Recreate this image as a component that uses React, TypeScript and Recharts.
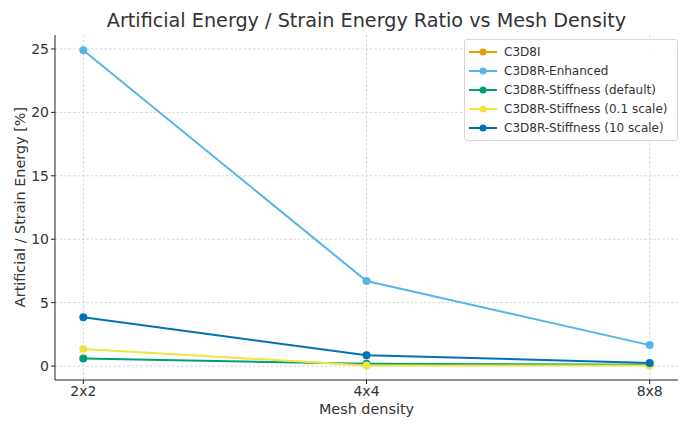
import { CartesianGrid, Line, LineChart, XAxis, YAxis } from "recharts";

const meshes = ["2x2", "4x4", "8x8"];
const seriesNames = [
  "C3D8I",
  "C3D8R-Enhanced",
  "C3D8R-Stiffness (default)",
  "C3D8R-Stiffness (0.1 scale)",
  "C3D8R-Stiffness (10 scale)",
];
const seriesColors = ["#E69F00", "#56B4E9", "#009E73", "#F0E442", "#0072B2"];

const c3d8i: (number | null)[] = [null, null, null];
const enhanced = [24.9, 6.7, 1.65];
const stiffDefault = [0.6, 0.18, 0.1];
const stiffLow = [1.35, 0.05, 0.05];
const stiffHigh = [3.85, 0.85, 0.25];
const yTicks = [0, 5, 10, 15, 20, 25];
const xTicks = [0, 1, 2];

const allValues = [c3d8i, enhanced, stiffDefault, stiffLow, stiffHigh];
const data = meshes.map((m, i) => {
  const row: Record<string, number | string | null> = { i, mesh: m };
  seriesNames.forEach((n, k) => (row[n] = allValues[k][i]));
  return row;
});

const font = "'DejaVu Sans', sans-serif";
const textColor = "#333333";

export default function App() {
  return (
    <div style={{ position: "absolute", left: 0, top: 0, width: 690, height: 431, background: "#fff", fontFamily: font }}>
      <LineChart width={690} height={431} data={data} margin={{ top: 35, right: 12, bottom: 21, left: 15 }}>
        <CartesianGrid stroke="#d6d6d6" strokeDasharray="2.5 2" syncWithTicks />
        <XAxis
          dataKey="i"
          type="number"
          domain={[-0.1, 2.1]}
          ticks={xTicks}
          tickFormatter={(v: number) => meshes[v]}
          height={30}
          tickSize={4}
          stroke="#222"
          tick={{ fill: textColor, fontSize: 14, fontFamily: font }}
        />
        <YAxis
          type="number"
          domain={[-1.1, 26.1]}
          ticks={yTicks}
          width={40}
          tickSize={4}
          stroke="#222"
          tick={{ fill: textColor, fontSize: 14, fontFamily: font }}
        />
        {seriesNames.map((n, k) => (
          <Line
            key={n}
            dataKey={n}
            stroke={seriesColors[k]}
            strokeWidth={2}
            dot={{ r: 4, fill: seriesColors[k], stroke: seriesColors[k], strokeWidth: 0 }}
            isAnimationActive={false}
          />
        ))}
      </LineChart>
      <div style={{ position: "absolute", left: 55, width: 623, top: 9, textAlign: "center", fontSize: 19.2, color: textColor }}>
        Artificial Energy / Strain Energy Ratio vs Mesh Density
      </div>
      <div style={{ position: "absolute", left: 55, width: 623, top: 401, textAlign: "center", fontSize: 14.4, color: textColor }}>
        Mesh density
      </div>
      <div
        style={{
          position: "absolute",
          left: 20,
          top: 207,
          transform: "translate(-50%, -50%) rotate(-90deg)",
          whiteSpace: "nowrap",
          fontSize: 14.4,
          color: textColor,
        }}
      >
        Artificial / Strain Energy [%]
      </div>
      <div
        style={{
          position: "absolute",
          left: 464,
          top: 39,
          width: 212,
          padding: "3px 0",
          border: "1px solid #d8d8d8",
          borderRadius: 3,
          background: "rgba(255,255,255,0.85)",
          fontSize: 12,
          color: textColor,
        }}
      >
        {seriesNames.map((n, k) => (
          <div key={n} style={{ display: "flex", alignItems: "center", height: 18.8 }}>
            <svg width={30} height={10} style={{ marginLeft: 3, marginRight: 6 }}>
              <line x1={1} y1={5} x2={29} y2={5} stroke={seriesColors[k]} strokeWidth={2} />
              <circle cx={15} cy={5} r={3.5} fill={seriesColors[k]} />
            </svg>
            <span>{n}</span>
          </div>
        ))}
      </div>
    </div>
  );
}
